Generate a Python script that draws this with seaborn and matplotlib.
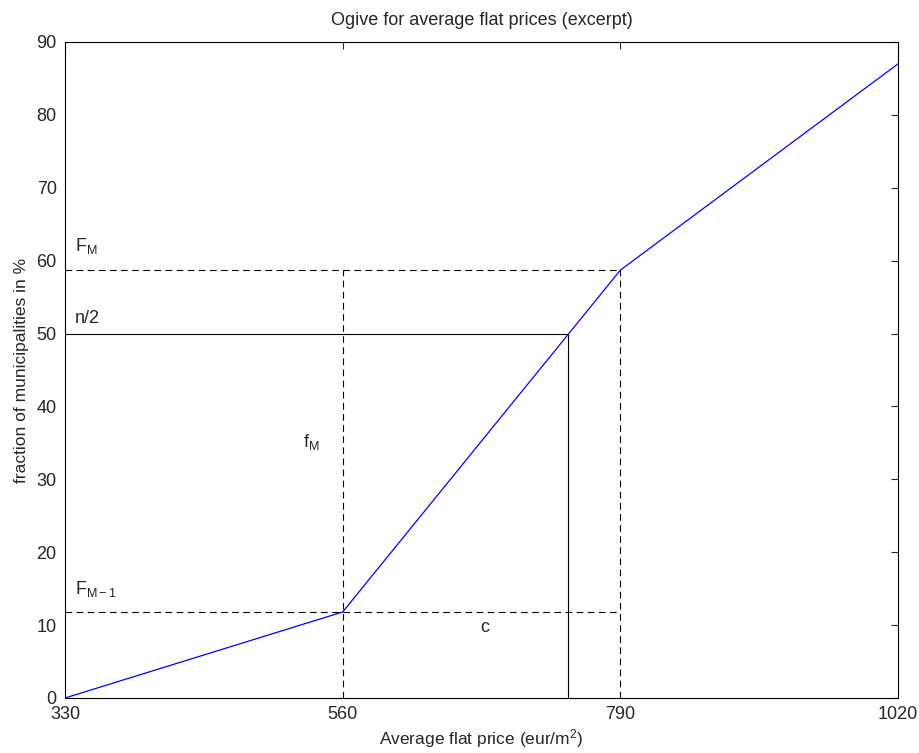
import seaborn as sns
import matplotlib.pyplot as plt
import pandas as pd

# ogiva de precios medios
precios = [330, 560, 790, 1020]
fraccion = [0.0, 11.8, 58.7, 87.0]
mediana = 746.8
n_medio = 50.0

sns.set_style('white')
plt.rcParams['font.family'] = ['Liberation Sans', 'DejaVu Sans']
plt.rcParams['mathtext.fontset'] = 'custom'
plt.rcParams['mathtext.rm'] = 'Liberation Sans'
plt.rcParams['mathtext.it'] = 'Liberation Sans'

datos = pd.DataFrame({'precio': precios, 'fraccion': fraccion})

fig = plt.figure(figsize=(9.2, 7.53), dpi=100)
ax = fig.add_axes([65 / 920, 55 / 753, 833 / 920, 656 / 753])

sns.lineplot(x='precio', y='fraccion', data=datos, color='blue', linewidth=0.9, ax=ax)

# lineas auxiliares
ax.plot([precios[0], precios[2]], [fraccion[2], fraccion[2]], '--', color='black', linewidth=0.8, dashes=(6, 4))
ax.plot([precios[0], precios[2]], [fraccion[1], fraccion[1]], '--', color='black', linewidth=0.8, dashes=(6, 4))
ax.plot([precios[1], precios[1]], [0, fraccion[2]], '--', color='black', linewidth=0.8, dashes=(6, 4))
ax.plot([precios[2], precios[2]], [0, fraccion[2]], '--', color='black', linewidth=0.8, dashes=(6, 4))
ax.plot([precios[0], mediana], [n_medio, n_medio], color='black', linewidth=0.8)
ax.plot([mediana, mediana], [0, n_medio], color='black', linewidth=0.8)

ax.text(338, 61.3, r'F$_\mathrm{M}$', fontsize=13)
ax.text(338, 51.5, 'n/2', fontsize=13)
ax.text(338, 14.3, r'F$_\mathrm{M-1}$', fontsize=13)
ax.text(527, 34.5, r'f$_\mathrm{M}$', fontsize=13)
ax.text(674, 9.0, 'c', fontsize=13)

ax.set_xlim(330, 1020)
ax.set_ylim(0, 90)
ax.set_xticks(precios)
ax.set_yticks(range(0, 91, 10))
ax.tick_params(direction='in', length=5, width=0.8, labelsize=13, top=True, right=True, pad=6)
for s in ax.spines.values():
    s.set_visible(True)
    s.set_color('black')
    s.set_linewidth(0.8)

ax.set_title('Ogive for average flat prices (excerpt)', fontsize=13, pad=12)
ax.set_xlabel('Average flat price (eur/m$^2$)', fontsize=12.5, labelpad=3)
ax.set_ylabel('fraction of municipalities in %', fontsize=12.5, labelpad=5)

plt.savefig('out.png', dpi=100)
